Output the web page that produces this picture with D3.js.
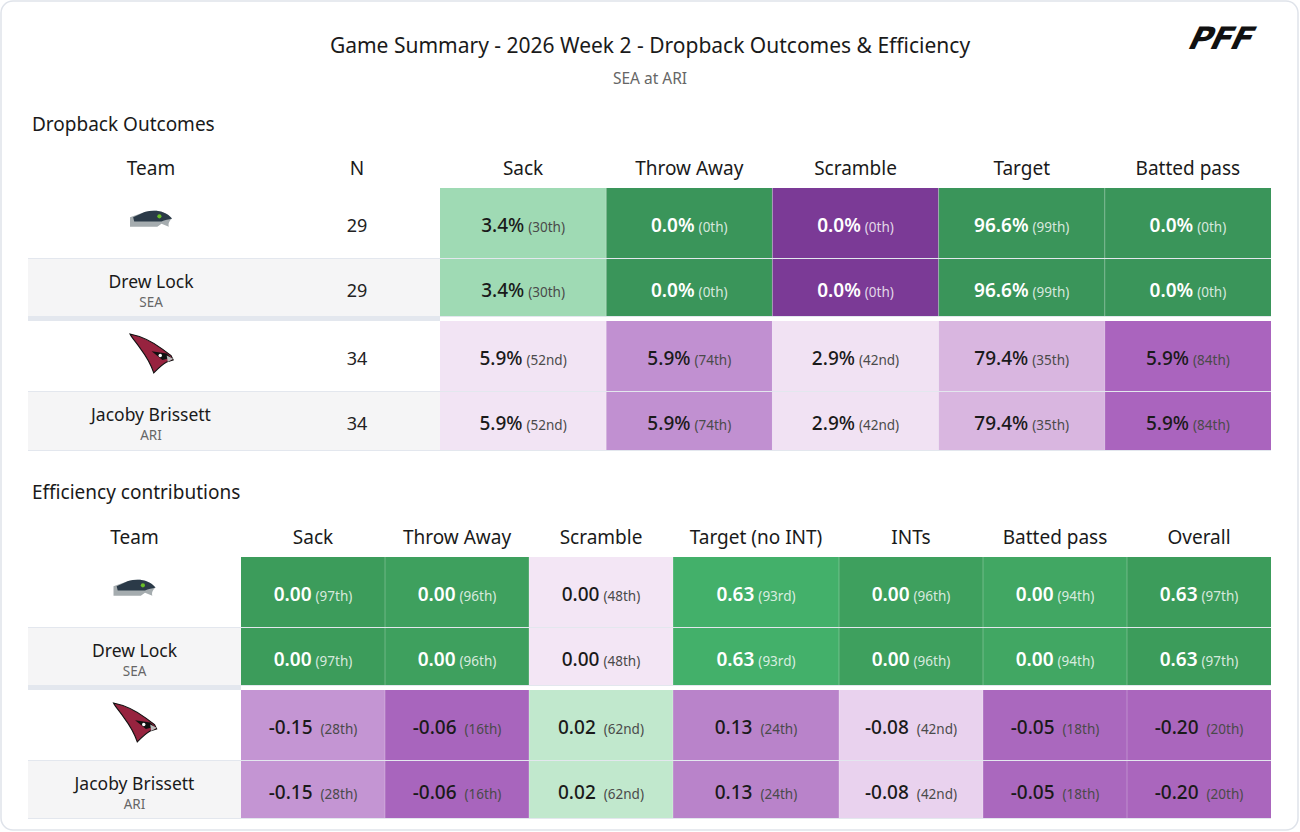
<!DOCTYPE html>
<html><head><meta charset="utf-8">
<script src="https://cdn.jsdelivr.net/npm/d3@7"></script>
<style>body{margin:0;background:#fff;font-family:"Noto Sans",sans-serif}</style>
</head><body><svg id="c" width="1300" height="832"></svg>
<script>
const title="Game Summary - 2026 Week 2 - Dropback Outcomes & Efficiency";
const subtitle="SEA at ARI";
const outcomeCols=["Sack","Throw Away","Scramble","Target","Batted pass"];
const effCols=["Sack","Throw Away","Scramble","Target (no INT)","INTs","Batted pass","Overall"];
const rowsMeta=[
 {team:"SEA",player:null},{team:"SEA",player:"Drew Lock"},
 {team:"ARI",player:null},{team:"ARI",player:"Jacoby Brissett"}];
const dropN=[29,29,34,34];
const seaOutVals=["3.4%","0.0%","0.0%","96.6%","0.0%"];
const seaOutPct=["30th","0th","0th","99th","0th"];
const seaOutCol=["#9fdab4","#3a955a","#7b3a96","#3a955a","#3a955a"];
const ariOutVals=["5.9%","5.9%","2.9%","79.4%","5.9%"];
const ariOutPct=["52nd","74th","42nd","35th","84th"];
const ariOutCol=["#f2e4f4","#c190d1","#f1e2f3","#d9b6e0","#aa64be"];
const seaEffVals=["0.00","0.00","0.00","0.63","0.00","0.00","0.63"];
const seaEffPct=["97th","96th","48th","93rd","96th","94th","97th"];
const seaEffCol=["#3c9c5b","#3ea05e","#f3e6f5","#43b06a","#3ea05e","#41a763","#3c9c5b"];
const ariEffVals=["-0.15","-0.06","0.02","0.13","-0.08","-0.05","-0.20"];
const ariEffPct=["28th","16th","62nd","24th","42nd","18th","20th"];
const ariEffCol=["#c495d3","#a865bd","#c1e8cd","#b983ca","#e9d2ee","#aa68be","#aa66bd"];

const svg=d3.select("#c");
svg.append("rect").attr("x",1).attr("y",1).attr("width",1297).attr("height",829).attr("rx",12)
 .attr("fill","#fff").attr("stroke","#dfe3ea").attr("stroke-width",1.5);
svg.append("text").attr("x",650).attr("y",53).attr("text-anchor","middle").attr("font-size",21).attr("fill","#1a1a1a").text(title);
svg.append("text").attr("x",650).attr("y",84).attr("text-anchor","middle").attr("font-size",15.5).attr("fill","#666").text(subtitle);
svg.append("text").attr("x",1218).attr("y",49).attr("text-anchor","middle").attr("font-size",31).attr("font-weight",900)
 .attr("font-family","DejaVu Sans").attr("letter-spacing",-1).attr("fill","#111")
 .attr("transform","translate(1240,0) skewX(-25) translate(-1218,0)").text("PFF");

function luminance(c){const r=d3.rgb(c);return (0.299*r.r+0.587*r.g+0.114*r.b)/255;}
function useWhite(c){const r=d3.rgb(c);const l=luminance(c);return (r.g>r.r&&l<0.6)||l<0.35;}

function seahawk(g,cx,cy){
 const s=g.append("g").attr("transform",`translate(${cx-21},${cy-9}) scale(1.05)`);
 s.append("path").attr("d","M0,7 L14,2 C24,-1 34,1 40,8 C38,10 36,12 37,16 L30,13 L26,16 L0,16 Z").attr("fill","#a5acaf");
 s.append("path").attr("d","M3,7 L14,2 C24,-1 34,1 40,8 C37,9 33,9 30,11 L4,11 Z").attr("fill","#2b3a48");
 s.append("circle").attr("cx",28).attr("cy",6).attr("r",2).attr("fill","#69be28");
}
function cardinal(g,cx,cy){
 const s=g.append("g").attr("transform",`translate(${cx-21},${cy-18}) scale(1.08)`);
 s.append("path").attr("d","M0,0 C10,2 22,8 30,14 L38,20 L40,24 L34,26 C30,28 26,32 22,36 C20,30 16,22 10,14 C6,8 2,4 0,0 Z").attr("fill","#97233f").attr("stroke","#111").attr("stroke-width",1);
 s.append("path").attr("d","M20,16 L34,18 L38,22 L30,24 Z").attr("fill","#111");
 s.append("path").attr("d","M34,20 L40,23 L35,26 Z").attr("fill","#bbb");
 s.append("circle").attr("cx",28).attr("cy",20).attr("r",1.6).attr("fill","#fff");
}

function table(cfg){
 const g=svg.append("g");
 g.append("text").attr("x",32).attr("y",cfg.secY).attr("font-size",19).attr("fill","#1a1a1a").text(cfg.secTitle);
 const headers=cfg.headers;
 const x=d3.scaleOrdinal().domain(headers).range(cfg.lefts);
 const w=d3.scaleOrdinal().domain(headers).range(cfg.widths);
 headers.forEach(h=>g.append("text").attr("x",x(h)+w(h)/2).attr("y",cfg.headY).attr("text-anchor","middle")
   .attr("font-size",19).attr("fill","#1a1a1a").text(h));
 const rowY=cfg.rowY, rowH=cfg.rowH;
 const xEnd=cfg.lefts[cfg.lefts.length-1]+cfg.widths[cfg.widths.length-1];
 rowsMeta.forEach((r,i)=>{
   const y0=rowY[i],h=rowH[i],cy=y0+h/2;
   g.append("rect").attr("x",28).attr("y",y0).attr("width",xEnd-28).attr("height",h).attr("fill",r.player?"#f5f5f6":"#fff");
   g.append("line").attr("x1",28).attr("x2",xEnd).attr("y1",y0+h+0.5).attr("y2",y0+h+0.5).attr("stroke","#e3e7ee").attr("stroke-width",1);
   const th=headers[0], tc=x(th)+w(th)/2;
   if(r.player){
     g.append("text").attr("x",tc).attr("y",cy+0).attr("text-anchor","middle").attr("font-size",17.5).attr("fill","#1a1a1a").text(r.player);
     g.append("text").attr("x",tc).attr("y",cy+19).attr("text-anchor","middle").attr("font-size",13.5).attr("fill","#666").text(r.team);
   } else { (r.team==="SEA"?seahawk:cardinal)(g,tc,cy-4); }
   if(cfg.nVals){
     g.append("text").attr("x",x("N")+w("N")/2).attr("y",cy+9).attr("text-anchor","middle").attr("font-size",18).attr("fill","#222").text(cfg.nVals[i]);
   }
   const vals=r.team==="SEA"?cfg.seaV:cfg.ariV, pcts=r.team==="SEA"?cfg.seaP:cfg.ariP, cols=r.team==="SEA"?cfg.seaC:cfg.ariC;
   cfg.valueCols.forEach((c,j)=>{
     const cx=x(c);
     g.append("rect").attr("x",cx).attr("y",y0).attr("width",w(c)).attr("height",h).attr("fill",cols[j]);
     const wh=useWhite(cols[j]);
     const t=g.append("text").attr("x",cx+w(c)/2).attr("y",cy+9).attr("text-anchor","middle");
     t.append("tspan").attr("font-size",19).attr("font-weight",wh?600:500).attr("fill",wh?"#fff":"#1a1a1a").text(vals[j]);
     t.append("tspan").attr("font-size",13.5).attr("dx",vals[j].startsWith("-")||vals[j]==="0.02"||vals[j]==="0.13"?8:4).attr("fill",wh?"rgba(255,255,255,0.8)":"#4a4a4a").text(`(${pcts[j]})`);
   });
   cfg.valueCols.forEach((c,j)=>{ if(j>0) g.append("line").attr("x1",x(c)).attr("x2",x(c)).attr("y1",y0).attr("y2",y0+h).attr("stroke","rgba(255,255,255,0.25)"); });
 });
 g.append("rect").attr("x",28).attr("y",rowY[1]+rowH[1]).attr("width",cfg.lefts[cfg.valueCols.length>5?1:2]-28).attr("height",rowY[2]-rowY[1]-rowH[1]).attr("fill","#e3e7ee");
}

table({secTitle:"Dropback Outcomes",secY:131,headY:175,
 headers:["Team","N",...outcomeCols],
 lefts:[28,274,440,606.2,772.4,938.6,1104.8],widths:[246,166,166.2,166.2,166.2,166.2,166.2],
 valueCols:outcomeCols,nVals:dropN,
 rowY:[188,259,321,392],rowH:[70,57,70,58],
 seaV:seaOutVals,seaP:seaOutPct,seaC:seaOutCol,ariV:ariOutVals,ariP:ariOutPct,ariC:ariOutCol});
table({secTitle:"Efficiency contributions",secY:499,headY:544,
 headers:["Team",...effCols],
 lefts:[28,241,385,529,673,839,983,1127],widths:[213,144,144,144,166,144,144,144],
 valueCols:effCols,nVals:null,
 rowY:[557,628,690,761],rowH:[70,57,70,57],
 seaV:seaEffVals,seaP:seaEffPct,seaC:seaEffCol,ariV:ariEffVals,ariP:ariEffPct,ariC:ariEffCol});
</script></body></html>
